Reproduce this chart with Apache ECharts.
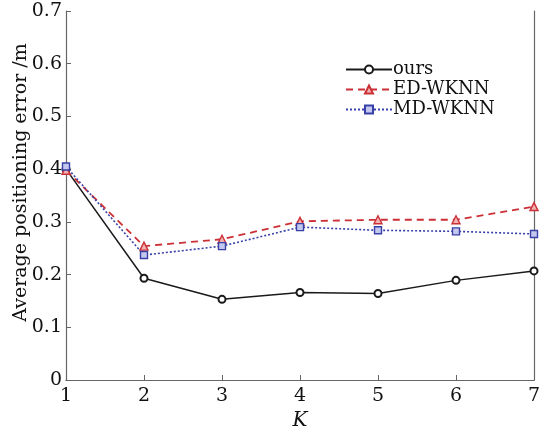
<!DOCTYPE html>
<html><head><meta charset="utf-8">
<script src="https://cdn.jsdelivr.net/npm/echarts@6/dist/echarts.min.js"></script>
<style>html,body{margin:0;padding:0;background:#fff}#c{width:540px;height:431px}</style>
</head><body><div id="c"></div>
<script>
const kValues = [1, 2, 3, 4, 5, 6, 7];
const ours = [0.400, 0.193, 0.153, 0.166, 0.164, 0.189, 0.207];
const edWknn = [0.398, 0.254, 0.267, 0.301, 0.304, 0.304, 0.329];
const mdWknn = [0.405, 0.237, 0.254, 0.290, 0.284, 0.282, 0.277];
const yTicks = [0, 0.1, 0.2, 0.3, 0.4, 0.5, 0.6, 0.7];

const font = '"DejaVu Serif", "Liberation Serif", serif';
const axisColor = '#666';
const chart = echarts.init(document.getElementById('c'));
const pair = (arr) => arr.map((v, i) => [kValues[i], v]);
chart.setOption({
  animation: false,
  grid: {left: 66, right: 6, top: 11, bottom: 51, outerBoundsMode: 'none', containLabel: false},
  legend: {
    left: 340, top: 55, orient: 'vertical', itemGap: 1,
    itemWidth: 46, itemHeight: 10,
    textStyle: {fontFamily: font, fontSize: 18, lineHeight: 19, color: '#111', padding: [0,0,0,-4]},
    data: ['ours', 'ED-WKNN', 'MD-WKNN']
  },
  xAxis: [{
    type: 'value', min: 1, max: 7, interval: 1,
    name: 'K', nameLocation: 'middle', nameGap: 31,
    nameTextStyle: {fontFamily: font, fontSize: 20, fontStyle: 'italic', color: '#111'},
    axisLine: {lineStyle: {color: axisColor, width: 1.2}},
    axisTick: {inside: true, length: 5, lineStyle: {color: axisColor}},
    axisLabel: {fontFamily: font, fontSize: 19, color: '#111', margin: 7},
    splitLine: {show: false}
  }, {
    type: 'value', min: 1, max: 7, interval: 1, position: 'top',
    axisLine: {show: true, lineStyle: {color: axisColor, width: 1.2}},
    axisTick: {show: false}, axisLabel: {show: false}, splitLine: {show: false}
  }],
  yAxis: [{
    type: 'value', min: 0, max: 0.7, interval: 0.1,
    name: 'Average positioning error /m', nameLocation: 'middle', nameGap: 35,
    nameMoveOverlap: false,
    nameTextStyle: {fontFamily: font, fontSize: 19, color: '#111', padding: [0, 0, 0, 26]},
    axisLine: {show: true, lineStyle: {color: axisColor, width: 1.2}},
    axisTick: {inside: true, length: 5, lineStyle: {color: axisColor}},
    axisLabel: {fontFamily: font, fontSize: 19, color: '#111', margin: 4,
      formatter: v => { const t = yTicks.find(x => Math.abs(x - v) < 1e-9); return t === 0 ? '0' : String(+t.toFixed(1)); }},
    splitLine: {show: false}
  }, {
    type: 'value', min: 0, max: 0.7, interval: 0.1, position: 'right',
    axisLine: {show: true, lineStyle: {color: axisColor, width: 1.2}},
    axisTick: {show: false}, axisLabel: {show: false}, splitLine: {show: false}
  }],
  series: [
    {name: 'ours', type: 'line', data: pair(ours), symbol: 'emptyCircle', symbolSize: 7,
      lineStyle: {color: '#1a1a1a', width: 1.5}, itemStyle: {color: '#1a1a1a', borderWidth: 1.3}},
    {name: 'ED-WKNN', type: 'line', data: pair(edWknn), symbol: 'triangle', symbolSize: 8,
      lineStyle: {color: '#cc2f36', width: 1.8, type: [7, 5]},
      itemStyle: {color: '#f0b3b3', borderColor: '#cc2f36', borderWidth: 1.4}},
    {name: 'MD-WKNN', type: 'line', data: pair(mdWknn), symbol: 'rect', symbolSize: 7,
      lineStyle: {color: '#3840a8', width: 1.6, type: [2, 2]},
      itemStyle: {color: '#c5c8ee', borderColor: '#3840a8', borderWidth: 1.4}}
  ]
});
</script></body></html>
